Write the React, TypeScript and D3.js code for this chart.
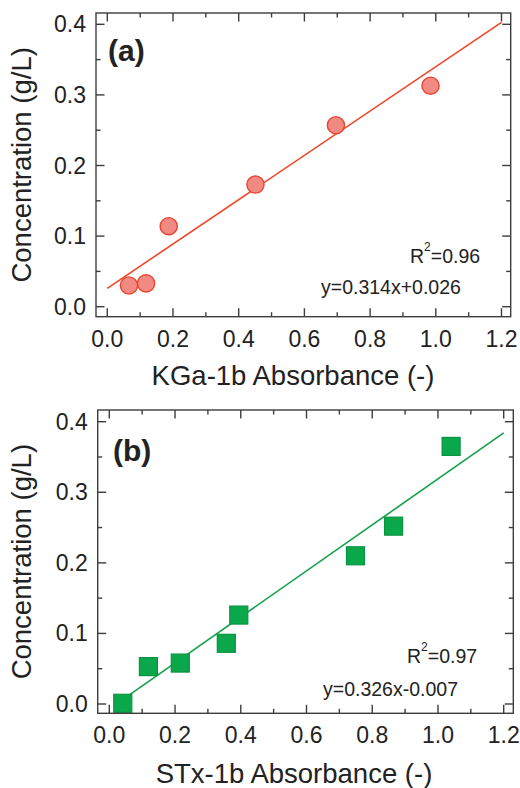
import React from "react";
import * as d3 from "d3";

// Panel (a): KGa-1b calibration
const kgaAbsorbance = [0.066, 0.118, 0.187, 0.451, 0.696, 0.984];
const kgaConcentration = [0.030, 0.033, 0.114, 0.173, 0.257, 0.313];
const kgaFit = { slope: 0.314, intercept: 0.026, r2: "0.96", from: 0, to: 1.2 };

// Panel (b): STx-1b calibration
const stxAbsorbance = [0.041, 0.119, 0.216, 0.356, 0.394, 0.749, 0.865, 1.04];
const stxConcentration = [0.001, 0.053, 0.058, 0.086, 0.126, 0.21, 0.252, 0.365];
const stxFit = { slope: 0.326, intercept: -0.007, r2: "0.97", from: 0.02, to: 1.2 };

const xTicks = [0, 0.2, 0.4, 0.6, 0.8, 1.0, 1.2];
const xMinorTicks = [0.1, 0.3, 0.5, 0.7, 0.9, 1.1];
const yTicks = [0, 0.1, 0.2, 0.3, 0.4];
const yMinorTicks = [0.05, 0.15, 0.25, 0.35];

const FONT = "'Liberation Sans', Arial, Helvetica, sans-serif";
const AXIS = "#3d3d3d";

type PanelProps = {
  frame: { left: number; right: number; top: number; bottom: number };
  x0: number; // pixel of x = 0
  x12: number; // pixel of x = 1.2
  y0: number; // pixel of y = 0
  y4: number; // pixel of y = 0.4
  xs: number[];
  ys: number[];
  fit: { slope: number; intercept: number; r2: string; from: number; to: number };
  tag: string;
  xTitle: string;
  marker: "circle" | "square";
  lineColor: string;
  fill: string;
  stroke: string;
  eqLabel: string;
  labelPos: { tagX: number; tagY: number; r2X: number; r2Y: number; eqX: number; eqY: number; xtY: number; xtX: number };
};

function Panel(p: PanelProps) {
  const { frame } = p;
  const x = d3.scaleLinear().domain([0, 1.2]).range([p.x0, p.x12]);
  const y = d3.scaleLinear().domain([0, 0.4]).range([p.y0, p.y4]);
  const line = d3
    .line<number>()
    .x((d) => x(d))
    .y((d) => y(p.fit.slope * d + p.fit.intercept));
  const fmt = d3.format(".1f");
  const major = 8.5;
  const minor = 4.5;
  const pts = p.xs.map((v, i) => ({ x: v, y: p.ys[i] }));
  const side = 18;

  return (
    <g>
      {/* fitted line */}
      <path d={line([p.fit.from, p.fit.to]) ?? ""} stroke={p.lineColor} strokeWidth={1.6} fill="none" />
      {/* data markers */}
      {pts.map((d, i) =>
        p.marker === "circle" ? (
          <circle key={i} cx={x(d.x)} cy={y(d.y)} r={8.6} fill={p.fill} stroke={p.stroke} strokeWidth={1.4} />
        ) : (
          <rect
            key={i}
            x={x(d.x) - side / 2}
            y={y(d.y) - side / 2}
            width={side}
            height={side}
            fill={p.fill}
            stroke={p.stroke}
            strokeWidth={1.2}
          />
        )
      )}
      {/* frame */}
      <rect
        x={frame.left}
        y={frame.top}
        width={frame.right - frame.left}
        height={frame.bottom - frame.top}
        fill="none"
        stroke={AXIS}
        strokeWidth={1.4}
      />
      {/* x ticks, mirrored on top */}
      {xTicks.map((t) => (
        <g key={"xt" + t}>
          <line x1={x(t)} x2={x(t)} y1={frame.bottom} y2={frame.bottom - major} stroke={AXIS} strokeWidth={1.4} />
          <line x1={x(t)} x2={x(t)} y1={frame.top} y2={frame.top + major} stroke={AXIS} strokeWidth={1.4} />
          <text x={x(t)} y={frame.bottom + 30} textAnchor="middle" fontSize={23} fontFamily={FONT} fill="#222">
            {fmt(t)}
          </text>
        </g>
      ))}
      {xMinorTicks.map((t) => (
        <g key={"xm" + t}>
          <line x1={x(t)} x2={x(t)} y1={frame.bottom} y2={frame.bottom - minor} stroke={AXIS} strokeWidth={1.4} />
          <line x1={x(t)} x2={x(t)} y1={frame.top} y2={frame.top + minor} stroke={AXIS} strokeWidth={1.4} />
        </g>
      ))}
      {/* y ticks, mirrored on right */}
      {yTicks.map((t) => (
        <g key={"yt" + t}>
          <line x1={frame.left} x2={frame.left + major} y1={y(t)} y2={y(t)} stroke={AXIS} strokeWidth={1.4} />
          <line x1={frame.right} x2={frame.right - major} y1={y(t)} y2={y(t)} stroke={AXIS} strokeWidth={1.4} />
          <text x={frame.left - 10} y={y(t) + 8} textAnchor="end" fontSize={23} fontFamily={FONT} fill="#222">
            {fmt(t)}
          </text>
        </g>
      ))}
      {yMinorTicks.map((t) => (
        <g key={"ym" + t}>
          <line x1={frame.left} x2={frame.left + minor} y1={y(t)} y2={y(t)} stroke={AXIS} strokeWidth={1.4} />
          <line x1={frame.right} x2={frame.right - minor} y1={y(t)} y2={y(t)} stroke={AXIS} strokeWidth={1.4} />
        </g>
      ))}
      {/* panel tag */}
      <text x={p.labelPos.tagX} y={p.labelPos.tagY} fontSize={30} fontWeight="bold" fontFamily={FONT} fill="#222">
        {p.tag}
      </text>
      {/* fit statistics */}
      <text x={p.labelPos.r2X} y={p.labelPos.r2Y} fontSize={19.5} fontFamily={FONT} fill="#222">
        R
        <tspan dy={-12} fontSize={12}>2</tspan>
        <tspan dy={12}>={p.fit.r2}</tspan>
      </text>
      <text x={p.labelPos.eqX} y={p.labelPos.eqY} fontSize={19.5} fontFamily={FONT} fill="#222">
        {p.eqLabel}
      </text>
      {/* axis titles */}
      <text
        x={p.labelPos.xtX}
        y={p.labelPos.xtY}
        textAnchor="middle"
        fontSize={27.5}
        fontFamily={FONT}
        fill="#222"
      >
        {p.xTitle}
      </text>
      <text
        transform={`translate(31,${(frame.top + frame.bottom) / 2}) rotate(-90)`}
        textAnchor="middle"
        fontSize={27.5}
        fontFamily={FONT}
        fill="#222"
      >
        Concentration (g/L)
      </text>
    </g>
  );
}

export default function App() {
  return (
    <svg width={520} height={788} style={{ position: "absolute", left: 0, top: 0, background: "#fff" }}>
      <Panel
        frame={{ left: 96, right: 510.7, top: 13, bottom: 316.7 }}
        x0={107.3}
        x12={501.5}
        y0={306.7}
        y4={24.3}
        xs={kgaAbsorbance}
        ys={kgaConcentration}
        fit={kgaFit}
        tag="(a)"
        xTitle="KGa-1b Absorbance (-)"
        marker="circle"
        lineColor="#ee4628"
        fill="#f28a84"
        stroke="#e8452f"
        eqLabel="y=0.314x+0.026"
        labelPos={{ tagX: 108, tagY: 61, r2X: 410, r2Y: 263, eqX: 321, eqY: 294, xtX: 293, xtY: 385 }}
      />
      <Panel
        frame={{ left: 97.7, right: 513.3, top: 410, bottom: 713.3 }}
        x0={109.3}
        x12={503.7}
        y0={704}
        y4={421.7}
        xs={stxAbsorbance}
        ys={stxConcentration}
        fit={stxFit}
        tag="(b)"
        xTitle="STx-1b Absorbance (-)"
        marker="square"
        lineColor="#13a04a"
        fill="#0aa84a"
        stroke="#0a9442"
        eqLabel="y=0.326x-0.007"
        labelPos={{ tagX: 113, tagY: 461, r2X: 407, r2Y: 662.5, eqX: 323, eqY: 696, xtX: 294, xtY: 783 }}
      />
    </svg>
  );
}
